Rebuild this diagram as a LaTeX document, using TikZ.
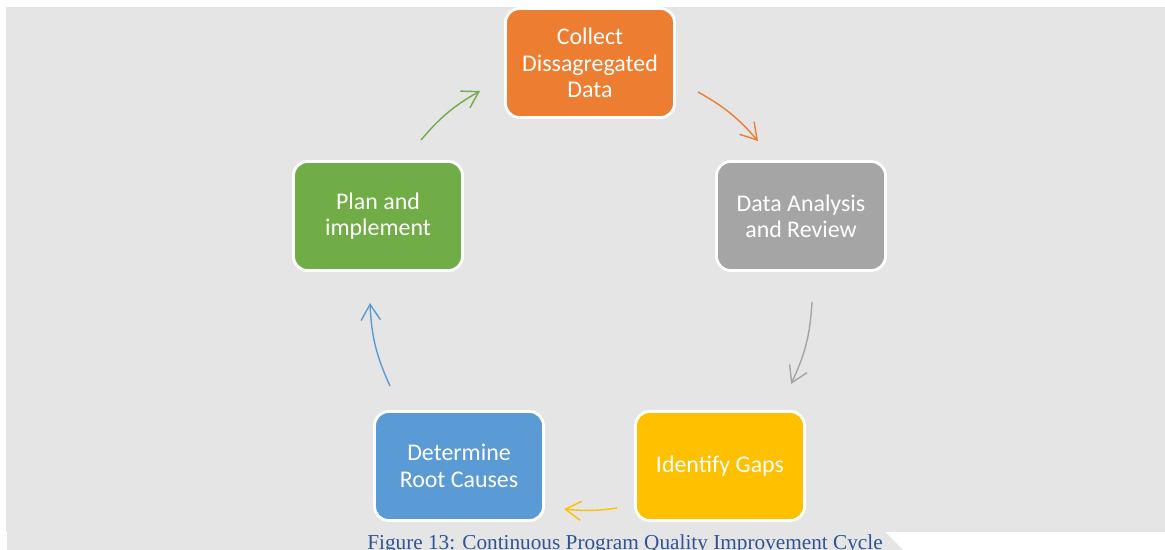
\documentclass[tikz,border=0pt]{standalone}
\usepackage{fontspec}
\setmainfont{Carlito}
\newfontfamily\capfont{Liberation Serif}
\usepackage{tikz}
\usetikzlibrary{arrows.meta}
\definecolor{bggray}{HTML}{E5E5E5}
\definecolor{cOrange}{HTML}{ED7D31}
\definecolor{cGray}{HTML}{A5A5A5}
\definecolor{cYellow}{HTML}{FFC000}
\definecolor{cBlue}{HTML}{5B9BD5}
\definecolor{cGreen}{HTML}{70AD47}
\definecolor{capblue}{HTML}{2F5496}

\begin{document}
\begin{tikzpicture}[x=0.02cm,y=0.02cm]
\tikzstyle{box}=[rectangle,rounded corners=8pt,draw=white,line width=1.6pt,text=white,
  minimum width=3.38cm,minimum height=2.18cm,align=center,font=\fontsize{13.6}{15}\selectfont]
\tikzstyle{orangebox}=[box,fill=cOrange]
\tikzstyle{graybox}=[box,fill=cGray]
\tikzstyle{yellowbox}=[box,fill=cYellow]
\tikzstyle{bluebox}=[box,fill=cBlue]
\tikzstyle{greenbox}=[box,fill=cGreen]
\tikzstyle{cyc}=[line width=0.8pt,-{Straight Barb[length=9pt,width=11pt]}]
\useasboundingbox (0,0) rectangle (1165,550);
\fill[white] (0,0) rectangle (1165,550);
\fill[bggray] (6,18) rectangle (1165,543);
\fill[bggray] (7,0) -- (7,18) -- (885,18) -- (903,0) -- cycle;
% the five steps
\node[orangebox] (collect) at (590,487) {Collect\\Dissagregated\\Data};
\node[graybox] (analysis) at (801,334) {Data Analysis\\and Review};
\node[yellowbox] (gaps) at (720,84) {Identify Gaps};
\node[bluebox] (causes) at (459,84) {Determine\\Root Causes};
\node[greenbox] (plan) at (378,334) {Plan and\\implement};
% arrow ends on the circle
\coordinate (o1) at (698,458); \coordinate (o2) at (758,409);
\coordinate (g1) at (812,248); \coordinate (g2) at (791,166);
\coordinate (y1) at (617,42); \coordinate (y2) at (564,41);
\coordinate (b1) at (390,164); \coordinate (b2) at (370,247);
\coordinate (n1) at (421,410); \coordinate (n2) at (480,459);
\draw[cyc,cOrange] (o1) to[bend left=10] (o2);
\draw[cyc,cGray] (g1) to[bend left=11] (g2);
\draw[cyc,cYellow] (y1) to[bend left=7] (y2);
\draw[cyc,cBlue] (b1) to[bend left=11] (b2);
\draw[cyc,cGreen] (n1) to[bend left=10] (n2);
\node[anchor=base,text=capblue,font=\capfont\fontsize{12.1}{14}\selectfont,inner sep=0pt] (caption) at (625,0)
  {Figure 13: Continuous Program Quality Improvement Cycle};
\end{tikzpicture}
\end{document}
